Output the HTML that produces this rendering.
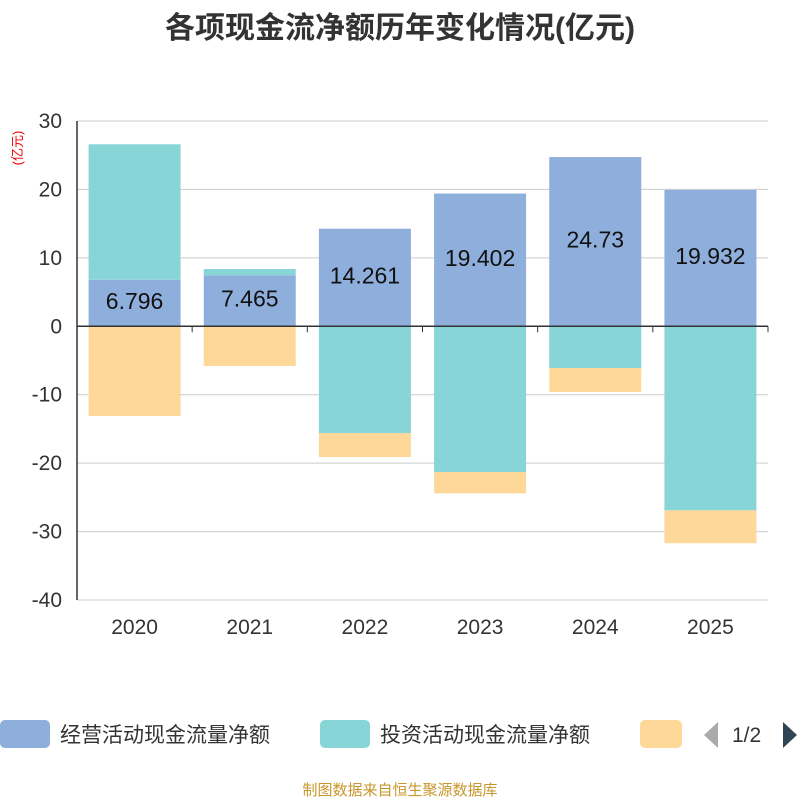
<!DOCTYPE html>
<html><head><meta charset="utf-8"><style>
body{margin:0;background:#fff;width:800px;height:800px;overflow:hidden;font-family:"Liberation Sans","Noto Sans CJK SC",sans-serif}
</style></head><body>
<svg id="c" width="800" height="800" xmlns="http://www.w3.org/2000/svg">
<text x="400" y="38" text-anchor="middle" font-size="30" font-weight="bold" fill="#333" font-family="Liberation Sans, Noto Sans CJK SC, sans-serif">各项现金流净额历年变化情况(亿元)</text>
<text transform="translate(22,148) rotate(-90)" text-anchor="middle" font-size="13" fill="#e00" font-family="Liberation Sans, Noto Sans CJK SC, sans-serif">(亿元)</text>
<g id="grid"></g><g id="bars"></g><g id="axes"></g>
<g font-family="Liberation Sans, Noto Sans CJK SC, sans-serif" font-size="21" fill="#333">
<rect x="0" y="720" width="50" height="28" rx="5" fill="#8eaedb"/>
<text x="60" y="742">经营活动现金流量净额</text>
<rect x="320" y="720" width="50" height="28" rx="5" fill="#88d5d8"/>
<text x="380" y="742">投资活动现金流量净额</text>
<rect x="640" y="720" width="42" height="28" rx="5" fill="#fed898"/>
<polygon points="718,722 718,748 704,735" fill="#aaa"/>
<text x="732" y="742">1/2</text>
<polygon points="783,722 783,748 797,735" fill="#2f4554"/>
</g>
<text x="400" y="795" text-anchor="middle" font-size="15" fill="#c8962a" font-family="Liberation Sans, Noto Sans CJK SC, sans-serif">制图数据来自恒生聚源数据库</text>
</svg>
<script>
const categories=["2020","2021","2022","2023","2024","2025"];
const operating=[6.796,7.465,14.261,19.402,24.73,19.932];
const investing=[19.8,0.9,-15.6,-21.3,-6.1,-26.9];
const financing=[-13.1,-5.8,-3.5,-3.1,-3.5,-4.8];
const yTicks=[30,20,10,0,-10,-20,-30,-40];
const NS="http://www.w3.org/2000/svg";
const x0=77,x1=768,yTop=121,yBot=600,vMax=30,vMin=-40;
const y=v=>yTop+(vMax-v)/(vMax-vMin)*(yBot-yTop);
const bw=(x1-x0)/categories.length;
const xc=i=>x0+bw*(i+0.5);
function el(t,a,p){const e=document.createElementNS(NS,t);for(const k in a)e.setAttribute(k,a[k]);document.getElementById(p).appendChild(e);return e;}
yTicks.forEach(t=>{
 const l=el('line',{x1:x0,x2:x1,y1:y(t),y2:y(t),stroke:'#ccc','stroke-width':1},'grid');
 
 
 const tx=el('text',{x:62,y:y(t)+7,'text-anchor':'end','font-size':21,fill:'#333'},'axes');
 tx.textContent=t;
 
 
});
categories.forEach((c,i)=>{
 const w=92,bx=xc(i)-w/2;
 let pos=0,neg=0;
 [[operating[i],'#8eaedb','bar-operating'],[investing[i],'#88d5d8','bar-investing'],[financing[i],'#fed898','bar-financing']].forEach(([v,col,nm])=>{
  let a,b;
  if(v>=0){a=pos;b=pos+v;pos=b;}else{a=neg;b=neg+v;neg=b;}
  const r=el('rect',{x:bx,y:Math.min(y(a),y(b)),width:w,height:Math.abs(y(a)-y(b)),fill:col},'bars');
  
  
 });
 const lb=el('text',{x:xc(i),y:y(operating[i]/2)+6,'text-anchor':'middle','font-size':23,fill:'#111'},'bars');
 lb.textContent=operating[i];
 
 
 const xl=el('text',{x:xc(i),y:634,'text-anchor':'middle','font-size':21,fill:'#333'},'axes');
 xl.textContent=c;
 
 
});
for(let i=0;i<=categories.length;i++){
 const t=el('line',{x1:x0+bw*i,x2:x0+bw*i,y1:y(0),y2:y(0)+6,stroke:'#333'},'axes');
 
 
}
const za=el('line',{x1:x0,x2:x1,y1:y(0),y2:y(0),stroke:'#333','stroke-width':1.5},'axes');


const ya=el('line',{x1:x0,x2:x0,y1:yTop,y2:yBot,stroke:'#333','stroke-width':1.5},'axes');


</script>
</body></html>
